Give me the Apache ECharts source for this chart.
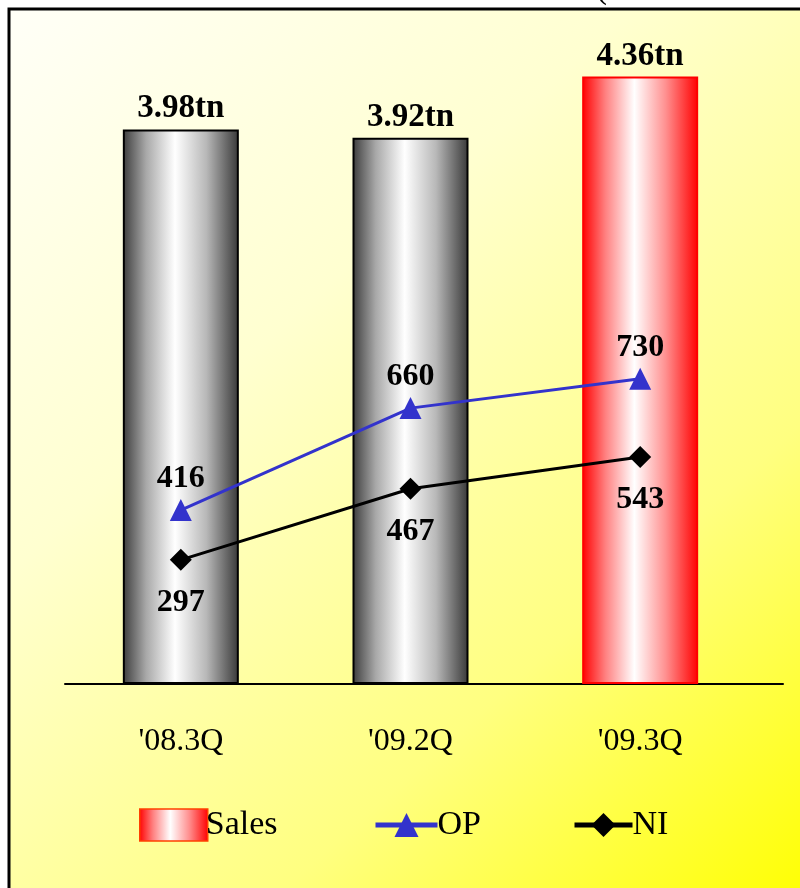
<!DOCTYPE html>
<html>
<head>
<meta charset="utf-8">
<script src="https://cdn.jsdelivr.net/npm/echarts@6/dist/echarts.min.js"></script>
<style>
  html, body { margin: 0; padding: 0; background: #fff; }
  #chart { width: 800px; height: 888px; }
</style>
</head>
<body>
<div id="chart"></div>
<script>
  const quarters = ["'08.3Q", "'09.2Q", "'09.3Q"]
  const sales = [3.98, 3.92, 4.36]
  const salesLabels = ['3.98tn', '3.92tn', '4.36tn']
  const op = [416, 660, 730]
  const ni = [297, 467, 543]

  const FONT = '"Liberation Serif", "Times New Roman", serif'

  const grayBar = new echarts.graphic.LinearGradient(0, 0, 1, 0, [
    { offset: 0, color: '#3c3c3c' },
    { offset: 0.2, color: '#a8a8a8' },
    { offset: 0.45, color: '#ffffff' },
    { offset: 0.72, color: '#b8b8b8' },
    { offset: 1, color: '#383838' }
  ])
  const redBar = new echarts.graphic.LinearGradient(0, 0, 1, 0, [
    { offset: 0, color: '#ff0000' },
    { offset: 0.2, color: '#ff8080' },
    { offset: 0.45, color: '#ffffff' },
    { offset: 0.72, color: '#ff9090' },
    { offset: 1, color: '#ff0000' }
  ])

  const chart = echarts.init(document.getElementById('chart'))

  const option = {
    animation: false,
    backgroundColor: '#ffffff',
    graphic: [
      {
        type: 'rect',
        z: -10,
        shape: { x: 9, y: 9, width: 800, height: 890 },
        style: {
          fill: new echarts.graphic.LinearGradient(0, 0, 1, 1, [
            { offset: 0, color: '#fffff8' },
            { offset: 0.35, color: '#ffffd0' },
            { offset: 0.7, color: '#ffff80' },
            { offset: 1, color: '#ffff00' }
          ]),
          stroke: '#000',
          lineWidth: 3
        }
      },
      {
        type: 'text',
        left: 596,
        top: -27,
        style: {
          text: '(Unit : KRW bn)',
          font: '33px ' + FONT,
          fill: '#000'
        }
      }
    ],
    grid: [
      { left: 66, right: 45, top: 57, bottom: 204 },
      { left: 65, right: 17, top: 57, bottom: 204 }
    ],
    legend: [
      {
        data: [{ name: 'Sales', icon: 'rect' }],
        left: 134, top: 803,
        itemWidth: 68, itemHeight: 32,
        itemStyle: { borderColor: '#ff4000', borderWidth: 1.5 },
        textStyle: { fontFamily: FONT, fontSize: 34, color: '#000', padding: [0, 0, 0, -7] }
      },
      {
        data: ['OP'],
        left: 368, top: 803,
        itemWidth: 62, itemHeight: 30,
        lineStyle: { width: 5 },
        textStyle: { fontFamily: FONT, fontSize: 34, color: '#000', padding: [0, 0, 0, -5] }
      },
      {
        data: ['NI'],
        left: 567, top: 803,
        itemWidth: 58, itemHeight: 30,
        lineStyle: { width: 5 },
        textStyle: { fontFamily: FONT, fontSize: 34, color: '#000', padding: [0, 0, 0, -5] }
      }
    ],
    xAxis: [
      {
        type: 'category',
        gridIndex: 0,
        data: quarters,
        axisLine: { show: false },
        axisTick: { show: false },
        axisLabel: { fontFamily: FONT, fontSize: 32, color: '#000', margin: 42 }
      },
      {
        type: 'category',
        gridIndex: 1,
        data: [],
        axisLine: { show: true, lineStyle: { color: '#000', width: 2 } },
        axisTick: { show: false },
        axisLabel: { show: false }
      }
    ],
    yAxis: [
      { type: 'value', gridIndex: 0, min: 0, max: 4.5, show: false, splitLine: { show: false } },
      { type: 'value', gridIndex: 0, min: 0, max: 1500, show: false, splitLine: { show: false } },
      { type: 'value', gridIndex: 1, show: false, splitLine: { show: false } }
    ],
    series: [
      {
        name: 'Sales',
        type: 'bar',
        xAxisIndex: 0,
        yAxisIndex: 0,
        barWidth: 116,
        itemStyle: { color: redBar, borderColor: '#ff3300', borderWidth: 1.5 },
        data: sales.map((v, i) => ({
          value: v,
          itemStyle: i < 2
            ? { color: grayBar, borderColor: '#000', borderWidth: 2 }
            : { color: redBar, borderColor: '#ff0000', borderWidth: 2 }
        })),
        label: {
          show: true,
          position: 'top',
          distance: 4,
          fontFamily: FONT,
          fontWeight: 'bold',
          fontSize: 33,
          color: '#000',
          formatter: p => salesLabels[p.dataIndex]
        }
      },
      {
        name: 'OP',
        type: 'line',
        xAxisIndex: 0,
        yAxisIndex: 1,
        data: op,
        symbol: 'triangle',
        symbolSize: 22,
        lineStyle: { color: '#3333cc', width: 3 },
        itemStyle: { color: '#3333cc' },
        z: 5,
        label: {
          show: true,
          position: 'top',
          distance: 4,
          fontFamily: FONT,
          fontWeight: 'bold',
          fontSize: 32,
          color: '#000'
        }
      },
      {
        name: 'NI',
        type: 'line',
        xAxisIndex: 0,
        yAxisIndex: 1,
        data: ni,
        symbol: 'diamond',
        symbolSize: 22,
        lineStyle: { color: '#000', width: 3 },
        itemStyle: { color: '#000' },
        z: 5,
        label: {
          show: true,
          position: 'bottom',
          distance: 16,
          fontFamily: FONT,
          fontWeight: 'bold',
          fontSize: 32,
          color: '#000'
        }
      }
    ]
  }

  chart.setOption(option)
</script>
</body>
</html>
